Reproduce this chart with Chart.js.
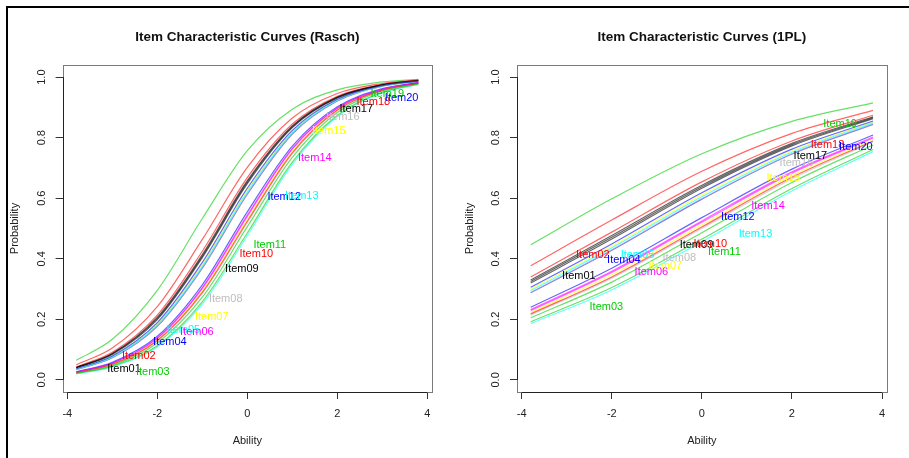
<!DOCTYPE html>
<html>
<head>
<meta charset="utf-8">
<script src="https://cdn.jsdelivr.net/npm/chart.js@4.4.1/dist/chart.umd.min.js"></script>
<style>
  body { margin: 0; background: #fff; }
  #page { position: relative; width: 909px; height: 458px; overflow: hidden; background: #fff; }
  #frame { position: absolute; left: 6px; top: 6px; width: 910px; height: 460px;
           border-top: 2px solid #000; border-left: 2px solid #000; }
  canvas { position: absolute; top: 0; }
</style>
</head>
<body>
<div id="page">
  <div id="frame"></div>
  <canvas id="rasch" width="455" height="458" style="left:0"></canvas>
  <canvas id="onepl" width="454" height="458" style="left:455px"></canvas>
</div>
<script>
// ---- data ----
const itemNames = ['Item01','Item02','Item03','Item04','Item05','Item06','Item07','Item08','Item09','Item10',
                   'Item11','Item12','Item13','Item14','Item15','Item16','Item17','Item18','Item19','Item20'];

const abilityRasch = [-3.8, -3, -2, -1, 0, 1, 2, 3, 3.8];
const abilityOnePL = [-3.8, -2, 0, 2, 3.8];

// probability of a correct answer, one row per item
const raschProbs = [
  [0.041, 0.087, 0.207, 0.414, 0.658, 0.839, 0.934, 0.975, 0.989],
  [0.050, 0.105, 0.242, 0.464, 0.702, 0.865, 0.946, 0.979, 0.991],
  [0.021, 0.045, 0.113, 0.258, 0.485, 0.719, 0.874, 0.950, 0.977],
  [0.037, 0.079, 0.189, 0.388, 0.633, 0.824, 0.927, 0.972, 0.987],
  [0.035, 0.076, 0.182, 0.376, 0.621, 0.817, 0.924, 0.971, 0.987],
  [0.026, 0.056, 0.139, 0.305, 0.544, 0.765, 0.898, 0.960, 0.982],
  [0.036, 0.077, 0.185, 0.382, 0.627, 0.820, 0.925, 0.971, 0.987],
  [0.035, 0.074, 0.178, 0.370, 0.615, 0.813, 0.922, 0.970, 0.986],
  [0.040, 0.086, 0.203, 0.409, 0.653, 0.836, 0.933, 0.974, 0.988],
  [0.024, 0.052, 0.130, 0.289, 0.524, 0.750, 0.891, 0.957, 0.980],
  [0.022, 0.048, 0.122, 0.273, 0.506, 0.735, 0.883, 0.954, 0.979],
  [0.027, 0.058, 0.144, 0.314, 0.555, 0.772, 0.902, 0.962, 0.982],
  [0.020, 0.043, 0.109, 0.250, 0.476, 0.712, 0.870, 0.948, 0.976],
  [0.026, 0.055, 0.137, 0.302, 0.540, 0.762, 0.897, 0.959, 0.981],
  [0.025, 0.053, 0.133, 0.295, 0.532, 0.755, 0.894, 0.958, 0.981],
  [0.024, 0.051, 0.128, 0.285, 0.519, 0.746, 0.889, 0.956, 0.980],
  [0.040, 0.084, 0.199, 0.404, 0.648, 0.833, 0.931, 0.974, 0.988],
  [0.043, 0.091, 0.214, 0.425, 0.668, 0.845, 0.937, 0.976, 0.989],
  [0.065, 0.134, 0.296, 0.533, 0.757, 0.894, 0.958, 0.984, 0.993],
  [0.034, 0.073, 0.177, 0.369, 0.613, 0.812, 0.921, 0.970, 0.986]
];

const onePLProbs = [
  [0.330, 0.477, 0.643, 0.781, 0.869],
  [0.377, 0.528, 0.689, 0.814, 0.890],
  [0.192, 0.305, 0.465, 0.632, 0.761],
  [0.306, 0.449, 0.618, 0.762, 0.855],
  [0.295, 0.436, 0.605, 0.752, 0.849],
  [0.232, 0.359, 0.525, 0.687, 0.802],
  [0.300, 0.442, 0.611, 0.756, 0.852],
  [0.289, 0.430, 0.599, 0.747, 0.845],
  [0.325, 0.471, 0.638, 0.777, 0.866],
  [0.218, 0.340, 0.505, 0.669, 0.789],
  [0.205, 0.323, 0.486, 0.652, 0.776],
  [0.240, 0.369, 0.536, 0.696, 0.809],
  [0.186, 0.297, 0.456, 0.624, 0.754],
  [0.229, 0.355, 0.521, 0.683, 0.799],
  [0.223, 0.347, 0.512, 0.675, 0.794],
  [0.214, 0.336, 0.500, 0.664, 0.786],
  [0.320, 0.465, 0.633, 0.773, 0.863],
  [0.340, 0.488, 0.654, 0.789, 0.874],
  [0.446, 0.598, 0.747, 0.854, 0.915],
  [0.288, 0.428, 0.597, 0.746, 0.844]
];

// where each item name is written (ability, probability)
const raschLabelX = [-2.74, -2.41, -2.10, -1.72, -1.42, -1.12, -0.79, -0.48, -0.12, 0.20,
                     0.50, 0.82, 1.21, 1.50, 1.81, 2.12, 2.42, 2.80, 3.11, 3.43];
const raschLabelY = [0.036, 0.080, 0.026, 0.126, 0.166, 0.157, 0.208, 0.267, 0.367, 0.417,
                     0.447, 0.605, 0.607, 0.732, 0.823, 0.869, 0.894, 0.918, 0.943, 0.932];
const onePLLabelX = [-2.73, -2.42, -2.12, -1.73, -1.43, -1.12, -0.81, -0.50, -0.12, 0.19,
                     0.50, 0.80, 1.19, 1.47, 1.81, 2.10, 2.41, 2.79, 3.07, 3.42];
const onePLLabelY = [0.342, 0.413, 0.241, 0.397, 0.411, 0.358, 0.377, 0.403, 0.447, 0.450,
                     0.424, 0.537, 0.483, 0.575, 0.667, 0.718, 0.739, 0.776, 0.844, 0.770];

const xTicks = [-4, -2, 0, 2, 4];
const yTicks = [0, 0.2, 0.4, 0.6, 0.8, 1.0];

// R default palette, recycled over the items
const palette = ['#000000', '#FF0000', '#00CD00', '#0000FF', '#00FFFF', '#FF00FF', '#FFFF00', '#BEBEBE'];
const lineAlpha = 0.6;

const FONT = '"Liberation Sans", Arial, Helvetica, sans-serif';

function withAlpha(hex, a) {
  const n = parseInt(hex.slice(1), 16);
  return `rgba(${(n >> 16) & 255},${(n >> 8) & 255},${n & 255},${a})`;
}

// R-like frame: box, axis lines, rotated y labels, titles and item names
const rDecor = {
  id: 'rDecor',
  afterDraw(chart, args, opts) {
    const { ctx, chartArea: a, scales: { x, y } } = chart;
    ctx.save();
    // box
    ctx.strokeStyle = '#7a7a7a';
    ctx.lineWidth = 1;
    ctx.strokeRect(Math.round(a.left) + 0.5, Math.round(a.top) + 0.5,
                   Math.round(a.right - a.left), Math.round(a.bottom - a.top));
    // axis lines between first and last tick
    ctx.strokeStyle = '#222';
    ctx.beginPath();
    const by = Math.round(a.bottom) + 0.5;
    ctx.moveTo(x.getPixelForValue(xTicks[0]), by);
    ctx.lineTo(x.getPixelForValue(xTicks[xTicks.length - 1]), by);
    const lx = Math.round(a.left) + 0.5;
    ctx.moveTo(lx, y.getPixelForValue(yTicks[0]));
    ctx.lineTo(lx, y.getPixelForValue(yTicks[yTicks.length - 1]));
    ctx.stroke();

    ctx.fillStyle = '#222';
    ctx.font = '11px ' + FONT;
    ctx.textAlign = 'center';
    ctx.textBaseline = 'middle';
    // y tick labels, rotated like R (las = 0)
    yTicks.forEach(v => {
      ctx.save();
      ctx.translate(a.left - 21, y.getPixelForValue(v));
      ctx.rotate(-Math.PI / 2);
      ctx.fillText(v.toFixed(1), 0, 0);
      ctx.restore();
    });
    // axis titles
    ctx.fillText('Ability', (a.left + a.right) / 2, 441);
    ctx.save();
    ctx.translate(15, (a.top + a.bottom) / 2);
    ctx.rotate(-Math.PI / 2);
    ctx.fillText('Probability', 0, 0);
    ctx.restore();
    // main title
    ctx.fillStyle = '#111';
    ctx.font = 'bold 13.5px ' + FONT;
    ctx.fillText(opts.title, (a.left + a.right) / 2, 37);
    // item names
    ctx.font = '11px ' + FONT;
    itemNames.forEach((name, i) => {
      ctx.fillStyle = palette[i % palette.length];
      ctx.fillText(name, x.getPixelForValue(opts.labelX[i]), y.getPixelForValue(opts.labelY[i]));
    });
    ctx.restore();
  }
};

function makeChart(id, title, ability, probs, labelX, labelY, area) {
  const canvas = document.getElementById(id);
  const yAxisW = 40, xAxisH = 40;
  const datasets = probs.map((row, i) => ({
    label: itemNames[i],
    data: row.map((p, k) => ({ x: ability[k], y: p })),
    borderColor: withAlpha(palette[i % palette.length], lineAlpha),
    borderWidth: 1.2,
    pointRadius: 0,
    fill: false,
    cubicInterpolationMode: 'monotone'
  }));

  return new Chart(canvas.getContext('2d'), {
    type: 'line',
    data: { datasets },
    options: {
      responsive: false,
      animation: false,
      devicePixelRatio: 1,
      layout: {
        padding: {
          left: area.left - yAxisW,
          right: canvas.width - area.right,
          top: area.top,
          bottom: canvas.height - area.bottom - xAxisH
        }
      },
      plugins: {
        legend: { display: false },
        tooltip: { enabled: false },
        rDecor: { title, labelX, labelY }
      },
      scales: {
        x: {
          type: 'linear',
          min: -4.104,
          max: 4.104,
          afterBuildTicks: s => { s.ticks = xTicks.map(v => ({ value: v })); },
          afterFit: s => { s.height = xAxisH; },
          grid: { drawOnChartArea: false, drawTicks: true, tickLength: 7, color: '#333' },
          border: { display: false },
          ticks: { color: '#222', padding: 8, maxRotation: 0, font: { family: FONT, size: 11 } }
        },
        y: {
          type: 'linear',
          min: -0.04,
          max: 1.04,
          afterBuildTicks: s => { s.ticks = yTicks.map(v => ({ value: v })); },
          afterFit: s => { s.width = yAxisW; },
          grid: { drawOnChartArea: false, drawTicks: true, tickLength: 7, color: '#333' },
          border: { display: false },
          ticks: { color: 'rgba(0,0,0,0)', font: { family: FONT, size: 11 } }
        }
      }
    },
    plugins: [rDecor]
  });
}

makeChart('rasch', 'Item Characteristic Curves (Rasch)', abilityRasch, raschProbs,
          raschLabelX, raschLabelY, { left: 62.6, right: 432, top: 65, bottom: 392 });
makeChart('onepl', 'Item Characteristic Curves (1PL)', abilityOnePL, onePLProbs,
          onePLLabelX, onePLLabelY, { left: 62, right: 431.7, top: 65, bottom: 392 });
</script>
</body>
</html>
